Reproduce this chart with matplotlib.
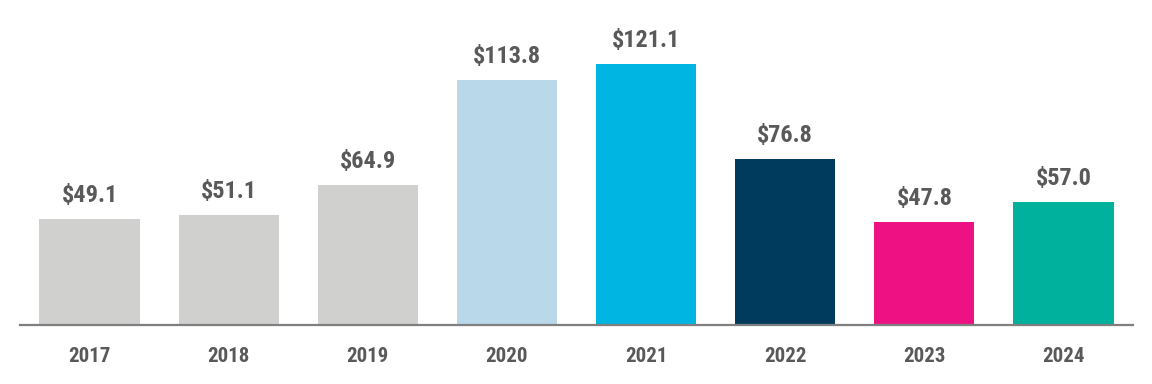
import matplotlib
matplotlib.use("Agg")
import matplotlib.pyplot as plt

years = ["2017", "2018", "2019", "2020", "2021", "2022", "2023", "2024"]
values = [49.1, 51.1, 64.9, 113.8, 121.1, 76.8, 47.8, 57.0]
colors = ["#D0D0CE", "#D0D0CE", "#D0D0CE", "#B9D9EB", "#00B5E2", "#003A5D", "#EE1183", "#00B29D"]

plt.rcParams["font.family"] = ["Roboto Condensed", "Liberation Sans", "DejaVu Sans"]

fig = plt.figure(figsize=(11.52, 3.84), dpi=100)
ax = fig.add_axes([20/1152, 59/384, 1113/1152, 325/384])
x = list(range(len(years)))
ax.bar(x, values, width=0.72, color=colors, zorder=2)
ax.set_xlim(-0.5, len(years) - 0.5)
ax.set_ylim(0, 150.8)

for xi, v in zip(x, values):
    ax.text(xi, v + 7.9, f"${v:.1f}", ha="center", va="baseline",
            fontsize=17.5, fontweight="bold", color="#595959")

ax.set_xticks(x)
ax.set_xticklabels(years, fontsize=15, fontweight="bold", color="#595959", va="baseline")
ax.tick_params(axis="x", length=0, pad=26.6)
ax.set_yticks([])
for s in ["top", "right", "left"]:
    ax.spines[s].set_visible(False)
ax.spines["bottom"].set_color("#7F7F7F")
ax.spines["bottom"].set_linewidth(1.6)
ax.spines["bottom"].set_zorder(3)

fig.savefig("out.png", dpi=100, facecolor="white")
